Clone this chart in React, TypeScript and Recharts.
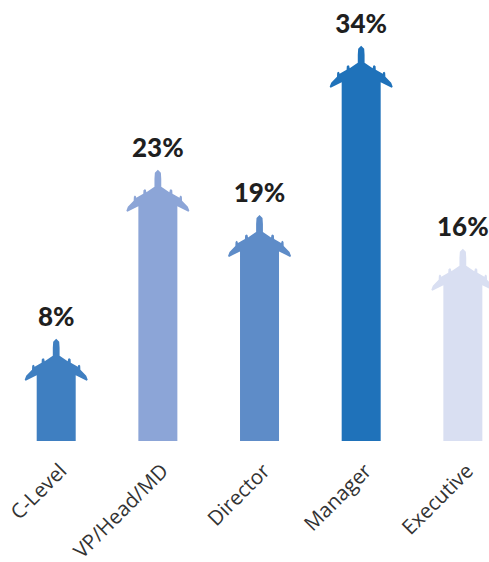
import { BarChart, Bar, XAxis, YAxis, Cell, LabelList } from "recharts"

const categories = ["C-Level", "VP/Head/MD", "Director", "Manager", "Executive"]
const shares = [8, 23, 19, 34, 16]
const colors = ["#3f7fc1", "#8ca5d7", "#5e8cc8", "#1f72ba", "#d9dff2"]

const data = categories.map((name, i) => ({ name, share: shares[i] }))

// plane silhouette on top of the bar, nose sticks out 12px above the value
function PlaneBar(props: any) {
  const { x, y, width, height, fill } = props
  const cx = x + width / 2
  const t = y - 12
  const bottom = y + height
  const half = width / 2
  const side = (s: number) =>
    [
      [3, 3],
      [3.4, 9],
      [3.4, 17],
      [11.5, 22.5],
      [12, 20],
      [13.2, 19.5],
      [14.4, 20.5],
      [14.6, 24],
      [21.6, 28],
      [22, 26.5],
      [23, 25.8],
      [24, 27],
      [24.2, 31],
      [30, 37],
      [31.5, 41],
      [30.5, 42],
      [half, 36.5],
    ].map(([dx, dy]) => `L${cx + s * dx} ${t + dy}`)
  const right = side(1)
  const left = side(-1).reverse()
  const d = [
    `M${cx} ${t}`,
    ...right,
    `L${cx + half} ${bottom}`,
    `L${cx - half} ${bottom}`,
    ...left,
    "Z",
  ].join(" ")
  return <path d={d} fill={fill} />
}

export default function App() {
  return (
    <div style={{ position: "absolute", left: 0, top: 0, width: 489, height: 562, overflow: "hidden", background: "#fff" }}>
      <BarChart
        width={514}
        height={562}
        data={data}
        margin={{ top: 35.3, right: 0, left: 5.7, bottom: 0 }}
        barSize={39}
      >
        <XAxis
          dataKey="name"
          axisLine={false}
          tickLine={false}
          interval={0}
          height={121}
          angle={-45}
          textAnchor="end"
          dx={1}
          dy={13}
          tick={{ fontSize: 20.5, fontFamily: "Open Sans", fill: "#333333" }}
        />
        <YAxis hide domain={[0, 36]} />
        <Bar dataKey="share" shape={<PlaneBar />} isAnimationActive={false}>
          {data.map((d, i) => (
            <Cell key={d.name} fill={colors[i]} />
          ))}
          <LabelList
            dataKey="share"
            position="top"
            offset={25}
            formatter={(v: any) => `${v}%`}
            style={{ fontSize: 26, fontWeight: 900, fontFamily: "Lato", fill: "#1f1f1f" }}
          />
        </Bar>
      </BarChart>
    </div>
  )
}
